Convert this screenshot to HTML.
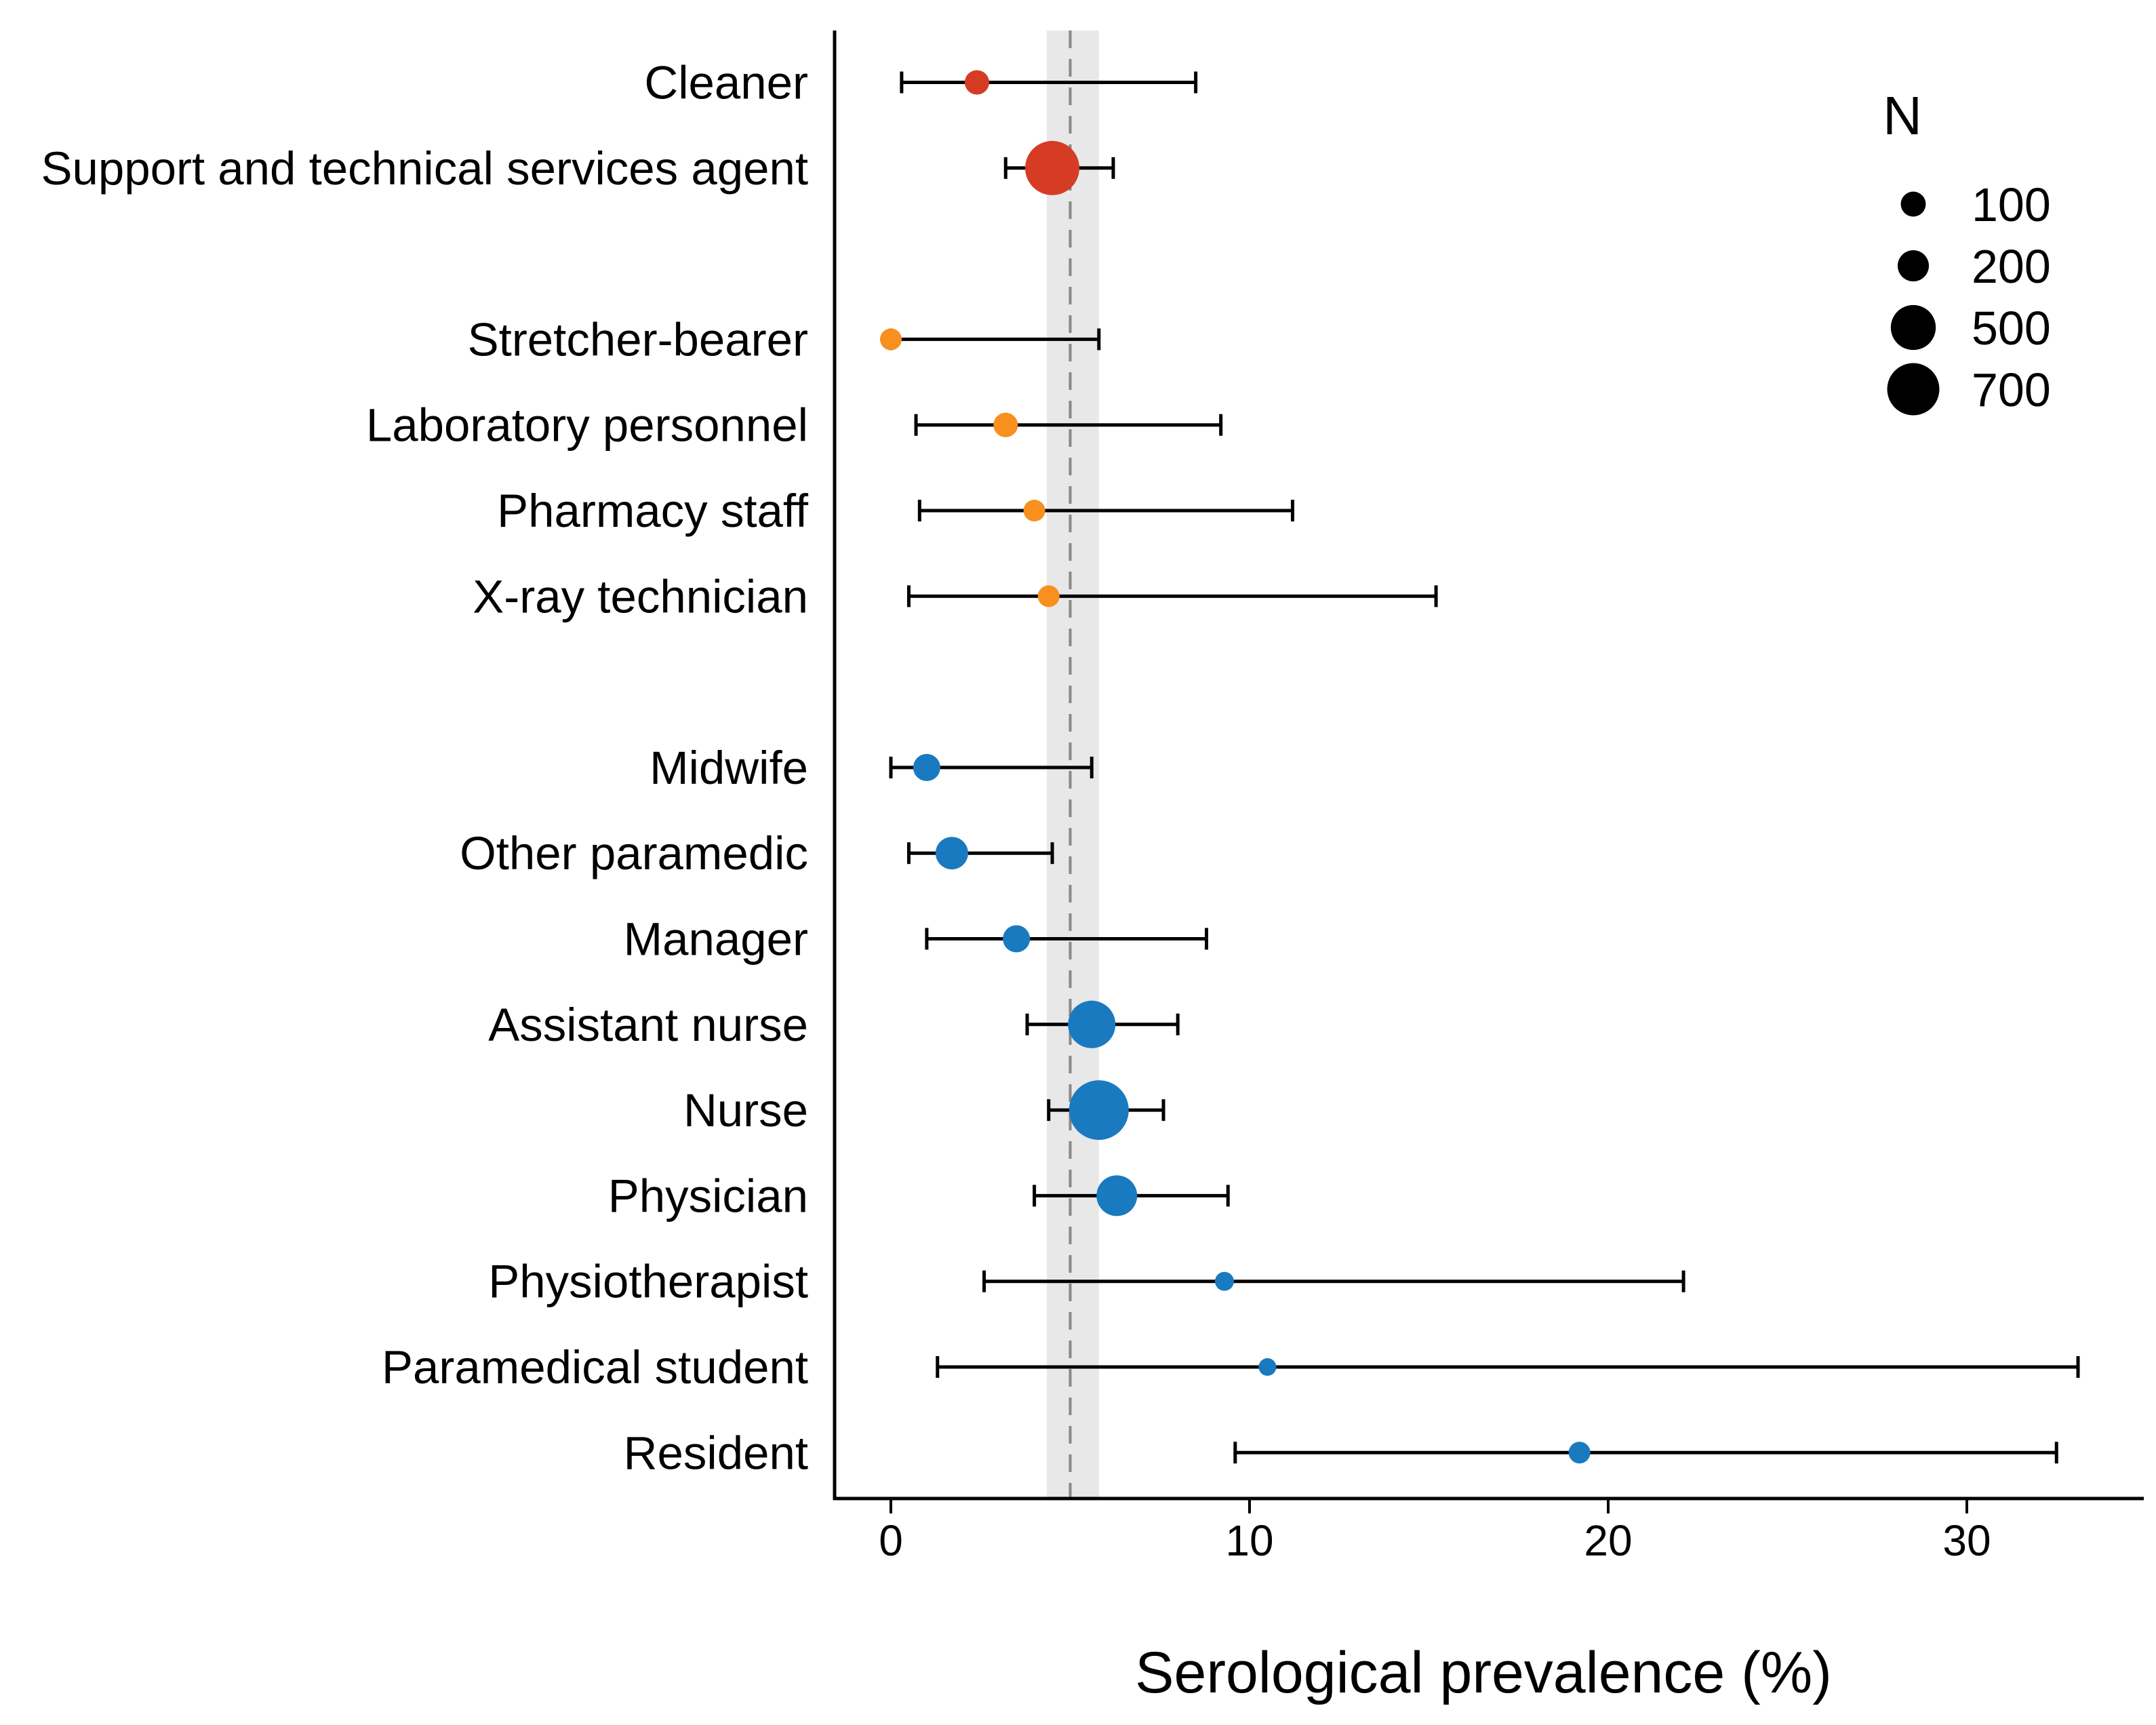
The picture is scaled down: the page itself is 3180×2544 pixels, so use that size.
<!DOCTYPE html>
<html><head><meta charset="utf-8"><style>html,body{margin:0;padding:0;background:#fff}svg{display:block}text{font-family:"Liberation Sans",Arial,sans-serif;fill:#000}</style></head>
<body>
<svg id="chart" width="3180" height="2544" viewBox="0 0 3180 2544" xmlns="http://www.w3.org/2000/svg">
<g id="band"></g>
<g id="axes"></g>
<g id="marks"></g>
<g id="legend"></g>
</svg>
<script>
const categories = ["Cleaner","Support and technical services agent","Stretcher-bearer","Laboratory personnel","Pharmacy staff","X-ray technician","Midwife","Other paramedic","Manager","Assistant nurse","Nurse","Physician","Physiotherapist","Paramedical student","Resident"];
const slots = [0,1,3,4,5,6,8,9,10,11,12,13,14,15,16];
const groups = ["red","red","orange","orange","orange","orange","blue","blue","blue","blue","blue","blue","blue","blue","blue"];
const estimates = [2.4,4.5,0,3.2,4.0,4.4,1.0,1.7,3.5,5.6,5.8,6.3,9.3,10.5,19.2];
const lower = [0.3,3.2,0,0.7,0.8,0.5,0,0.5,1.0,3.8,4.4,4.0,2.6,1.3,9.6];
const upper = [8.5,6.2,5.8,9.2,11.2,15.2,5.6,4.5,8.8,8.0,7.6,9.4,22.1,33.1,32.5];
const sampleN = [92,763,56,92,56,56,132,224,132,566,940,395,24,10,56];
const xTicks = [0,10,20,30];
const refValue = 5.0;
const refLow = 4.35, refHigh = 5.8;
const legendN = [100,200,500,700];

const colors = {red:"#d63b24",orange:"#f7901e",blue:"#1a7abf"};
const NS = "http://www.w3.org/2000/svg";
const X0 = 1314, PX = 52.9;
const AXY = 2210;
const xs = v => X0 + v*PX;
const ys = s => 121.5 + s*126.3;
const rs = n => Math.sqrt(150 + 1.9*n);
function mk(tag, attrs, parent){const e=document.createElementNS(NS,tag);for(const k in attrs)e.setAttribute(k,attrs[k]);parent.appendChild(e);return e;}

const band = document.getElementById('band');
const bandRect = mk('rect',{x:xs(refLow),y:45,width:xs(refHigh)-xs(refLow),height:AXY-45,fill:'#e8e8e8'},band);


const refLine = mk('line',{x1:xs(refValue),x2:xs(refValue),y1:45,y2:AXY,stroke:'#888','stroke-width':4,'stroke-dasharray':'26 16'},band);



const axes = document.getElementById('axes');
const yAxis = mk('line',{x1:1231,x2:1231,y1:45,y2:AXY+2,stroke:'#000','stroke-width':5},axes);


const xAxis = mk('line',{x1:1229,x2:3162,y1:AXY,y2:AXY,stroke:'#000','stroke-width':5},axes);


xTicks.forEach(t=>{
  const tk = mk('line',{x1:xs(t),x2:xs(t),y1:AXY,y2:AXY+22,stroke:'#000','stroke-width':4},axes);
  
  
  const tl = mk('text',{x:xs(t),y:AXY+84,'font-size':64,'text-anchor':'middle'},axes);
  tl.textContent = t;
  
  
});
const title = mk('text',{x:2188,y:2496,'font-size':86,'text-anchor':'middle'},axes);
title.textContent = 'Serological prevalence (%)';



const marks = document.getElementById('marks');
categories.forEach((c,i)=>{
  const y = ys(slots[i]);
  const lab = mk('text',{x:1192,y:y+24,'font-size':69,'text-anchor':'end'},axes);
  lab.textContent = c;
  
  
  const g = mk('g',{},marks);
  
  
  const el = mk('line',{x1:xs(lower[i]),x2:xs(upper[i]),y1:y,y2:y,stroke:'#000','stroke-width':5},g);
  
  
  [lower[i],upper[i]].forEach(v=>{
    const cap = mk('line',{x1:xs(v),x2:xs(v),y1:y-16,y2:y+16,stroke:'#000','stroke-width':5},g);
    
    
  });
  const pt = mk('circle',{cx:xs(estimates[i]),cy:y,r:rs(sampleN[i]),fill:colors[groups[i]]},g);
  
  
});

const legend = document.getElementById('legend');
const lt = mk('text',{x:2806,y:198,'font-size':80,'text-anchor':'middle'},legend);
lt.textContent = 'N';


legendN.forEach((n,i)=>{
  const y = 301 + i*91;
  const c = mk('circle',{cx:2822,cy:y,r:rs(n),fill:'#000'},legend);
  
  
  const t = mk('text',{x:2908,y:y+25,'font-size':70},legend);
  t.textContent = n;
  
  
});
</script>
</body></html>
